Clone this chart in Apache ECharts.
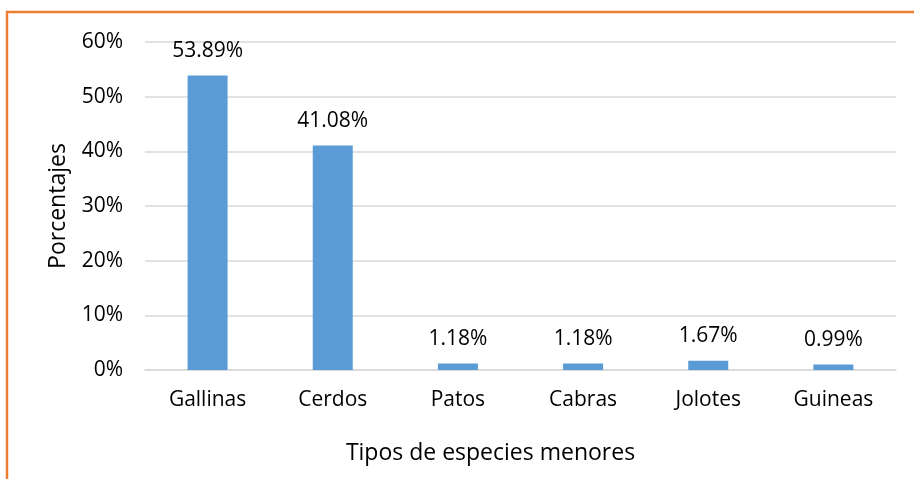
<!DOCTYPE html>
<html>
<head>
<meta charset="utf-8">
<script src="https://cdn.jsdelivr.net/npm/echarts@6/dist/echarts.min.js"></script>
<style>
  html, body { margin: 0; padding: 0; background: #fff; }
  #chart { width: 914px; height: 479px; }
</style>
</head>
<body>
<div id="chart"></div>
<script>
var categories = ['Gallinas', 'Cerdos', 'Patos', 'Cabras', 'Jolotes', 'Guineas'];
var values = [53.89, 41.08, 1.18, 1.18, 1.67, 0.99];
var yTicks = [0, 10, 20, 30, 40, 50, 60];

window.onload = function(){
  var chart = echarts.init(document.getElementById('chart'));
  var font = '"Open Sans", sans-serif';

  var opt = {
    animation: false,
    textStyle: { fontFamily: font },
    graphic: [{
      type: 'rect',
      shape: { x: 7, y: 12, width: 960, height: 520 },
      style: { fill: 'none', stroke: '#ED7D31', lineWidth: 2.5 },
      silent: true
    }],
    grid: { left: 145, right: 18, top: 42, bottom: 109 },
    xAxis: {
      type: 'category',
      data: categories,
      name: 'Tipos de especies menores',
      nameLocation: 'middle',
      nameGap: 72,
      // title sits a bit left of the plot centre in the original
      nameTextStyle: { fontSize: 23, color: '#000', fontFamily: font, padding: [0, 60, 0, 0] },
      axisLine: { lineStyle: { color: '#d9d9d9', width: 1.5 } },
      axisTick: { show: false },
      axisLabel: { fontSize: 21, color: '#000', margin: 20, fontFamily: font }
    },
    yAxis: {
      type: 'value',
      min: yTicks[0],
      max: yTicks[yTicks.length - 1],
      interval: 10,
      name: 'Porcentajes',
      nameLocation: 'middle',
      nameGap: 75,
      nameTextStyle: { fontSize: 23, color: '#000', fontFamily: font },
      splitLine: { lineStyle: { color: '#d9d9d9', width: 1.5 } },
      axisLine: { show: false },
      axisTick: { show: false },
      axisLabel: {
        fontSize: 21, color: '#000', margin: 22, fontFamily: font,
        formatter: function(v){ return v + '%'; }
      }
    },
    series: [{
      type: 'bar',
      data: values,
      barWidth: 40,
      itemStyle: { color: '#5B9BD5' },
      label: {
        show: true,
        position: 'top',
        distance: 14,
        fontSize: 21,
        color: '#000',
        fontFamily: font,
        formatter: function(p){ return p.value.toFixed(2) + '%'; }
      }
    }]
  };

  chart.setOption(opt);
};
</script>
</body>
</html>
